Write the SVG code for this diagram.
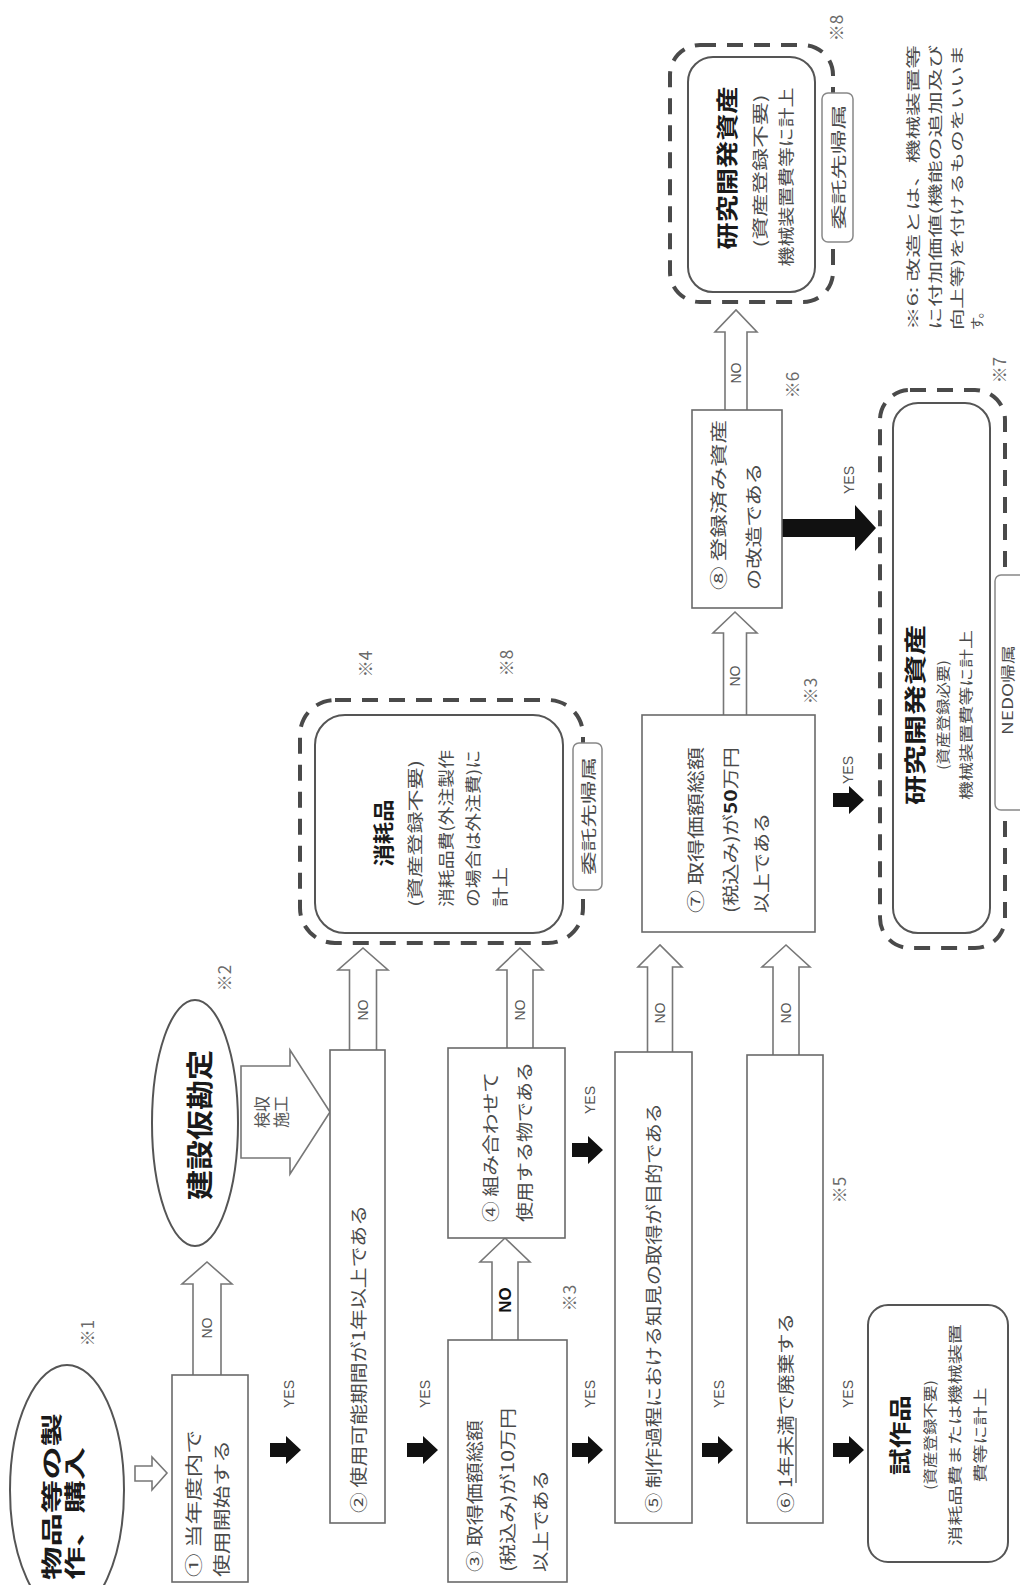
<svg xmlns="http://www.w3.org/2000/svg" width="1020" height="1585" viewBox="0 0 1020 1585">
<style>
.bg{fill:#fff}
.box{fill:#fff;stroke:#6a6a6a;stroke-width:1.6}
.hol{fill:#fff;stroke:#777;stroke-width:1.6;stroke-linejoin:miter}
.dash{fill:none;stroke:#4a4a4a;stroke-width:4;stroke-dasharray:16 11}
.inner{fill:#fff;stroke:#555;stroke-width:2}
.ell{fill:#fff;stroke:#555;stroke-width:2}
.tag{fill:#fff;stroke:#888;stroke-width:1.5}
.blk{fill:#111}
text{font-family:"Noto Sans CJK JP","Noto Sans",sans-serif;fill:#4a4a4a;font-size:17px}
.ti{font-weight:bold;fill:#1a1a1a}
.sm{font-size:16px;fill:#555}
.en{font-family:"Liberation Sans",sans-serif;font-size:14px;fill:#555}
.mk{font-family:"Noto Sans CJK JP",sans-serif;font-size:17px;fill:#6a6a6a}
</style>
<defs>
<path id="ya" d="M0,-7 H16 V-14 L31,0 L16,14 V7 H0 Z"/>
</defs>
<rect class="bg" width="1020" height="1585"/>

<g id="connectors">
<path class="hol" d="M135,1466 H152 V1457 L167,1473 L152,1490 V1481 H135 Z"/>
<path class="hol" d="M193,1375 V1284 H182 L207,1262 L232,1284 H221 V1375"/>
<path class="hol" d="M241,1066 H290 V1050 L330,1112 L290,1174 V1158 H241 Z"/>
<path class="hol" d="M349.5,1050 V970 H338 L363,948 L388,970 H376.5 V1050"/>
<path class="hol" d="M492,1340 V1262 H480 L505,1238 L530,1262 H518 V1340"/>
<path class="hol" d="M507,1048 V970 H497 L520,948 L543,970 H533 V1048"/>
<path class="hol" d="M647.5,1052 V967 H638 L660,945 L682,967 H672.5 V1052"/>
<path class="hol" d="M773,1055 V967 H762 L786,945 L810,967 H799 V1055"/>
<path class="hol" d="M723.5,715 V633 H713 L735,612 L757,633 H746.5 V715"/>
<path class="hol" d="M725,410 V332 H715 L736,310 L757,332 H747 V410"/>
<use href="#ya" class="blk" transform="translate(270,1450)"/>
<use href="#ya" class="blk" transform="translate(407,1450)"/>
<use href="#ya" class="blk" transform="translate(572,1450)"/>
<use href="#ya" class="blk" transform="translate(572,1150)"/>
<use href="#ya" class="blk" transform="translate(702,1450)"/>
<use href="#ya" class="blk" transform="translate(833,1450)"/>
<use href="#ya" class="blk" transform="translate(833,800)"/>
<path class="blk" d="M782,519 H855 V505 L876,528 L855,551 V537 H782 Z"/>
<text class="en" text-anchor="middle" transform="translate(212,1328) rotate(-90)">NO</text>
<text class="sm" text-anchor="middle" transform="translate(268,1112) rotate(-90)">検収</text>
<text class="sm" text-anchor="middle" transform="translate(287,1112) rotate(-90)">施工</text>
<text class="en" text-anchor="middle" transform="translate(368,1010) rotate(-90)">NO</text>
<text class="en" text-anchor="middle" transform="translate(525,1010) rotate(-90)">NO</text>
<text class="en" text-anchor="middle" style="font-size:17px;font-weight:bold;fill:#111" transform="translate(511,1300) rotate(-90)">NO</text>
<text class="en" text-anchor="middle" transform="translate(665,1013) rotate(-90)">NO</text>
<text class="en" text-anchor="middle" transform="translate(791,1013) rotate(-90)">NO</text>
<text class="en" text-anchor="middle" transform="translate(740,676) rotate(-90)">NO</text>
<text class="en" text-anchor="middle" transform="translate(741,373) rotate(-90)">NO</text>
<text class="en" text-anchor="middle" transform="translate(294,1394) rotate(-90)">YES</text>
<text class="en" text-anchor="middle" transform="translate(430,1394) rotate(-90)">YES</text>
<text class="en" text-anchor="middle" transform="translate(595,1394) rotate(-90)">YES</text>
<text class="en" text-anchor="middle" transform="translate(595,1100) rotate(-90)">YES</text>
<text class="en" text-anchor="middle" transform="translate(724,1394) rotate(-90)">YES</text>
<text class="en" text-anchor="middle" transform="translate(853,1394) rotate(-90)">YES</text>
<text class="en" text-anchor="middle" transform="translate(853,770) rotate(-90)">YES</text>
<text class="en" text-anchor="middle" transform="translate(854,480) rotate(-90)">YES</text>
</g>

<g id="n-start">
<ellipse class="ell" cx="67" cy="1490" rx="57" ry="125"/>
<text class="ti" style="font-size:21px" transform="translate(59,1580) rotate(-90)" textLength="167" lengthAdjust="spacingAndGlyphs">物品等の製</text>
<text class="ti" style="font-size:21px" transform="translate(82,1580) rotate(-90)" textLength="133" lengthAdjust="spacingAndGlyphs">作、購入</text>
<text class="mk" text-anchor="middle" transform="translate(94,1333) rotate(-90)">※1</text>
</g>

<g id="n1">
<rect class="box" x="172" y="1375" width="76" height="207"/>
<text transform="translate(200,1577) rotate(-90)" textLength="147" lengthAdjust="spacingAndGlyphs">① 当年度内で</text>
<text transform="translate(228,1577) rotate(-90)" textLength="137" lengthAdjust="spacingAndGlyphs">使用開始する</text>
</g>

<g id="n-kensetsu">
<ellipse class="ell" cx="195" cy="1123" rx="43" ry="123"/>
<text class="ti" style="font-size:27px" text-anchor="middle" transform="translate(210,1125) rotate(-90)" textLength="150" lengthAdjust="spacingAndGlyphs">建設仮勘定</text>
<text class="mk" text-anchor="middle" transform="translate(231,978) rotate(-90)">※2</text>
</g>

<g id="n2">
<rect class="box" x="330" y="1050" width="55" height="473"/>
<text transform="translate(364.5,1513) rotate(-90)" textLength="308" lengthAdjust="spacingAndGlyphs">② 使用可能期間が1年以上である</text>
</g>

<g id="n3">
<rect class="box" x="448" y="1340" width="119" height="242"/>
<text transform="translate(480.5,1572) rotate(-90)" textLength="152" lengthAdjust="spacingAndGlyphs">③ 取得価額総額</text>
<text transform="translate(513.5,1572) rotate(-90)" textLength="164" lengthAdjust="spacingAndGlyphs">(税込み)が10万円</text>
<text transform="translate(546.5,1572) rotate(-90)" textLength="102" lengthAdjust="spacingAndGlyphs">以上である</text>
<text class="mk" text-anchor="middle" transform="translate(576,1298) rotate(-90)">※3</text>
</g>

<g id="n4">
<rect class="box" x="448" y="1048" width="117" height="190"/>
<text transform="translate(496.5,1222) rotate(-90)" textLength="150" lengthAdjust="spacingAndGlyphs">④ 組み合わせて</text>
<text transform="translate(530.5,1222) rotate(-90)" textLength="160" lengthAdjust="spacingAndGlyphs">使用する物である</text>
</g>

<g id="n5">
<rect class="box" x="615" y="1052" width="77" height="471"/>
<text transform="translate(659.5,1513) rotate(-90)" textLength="410" lengthAdjust="spacingAndGlyphs">⑤ 制作過程における知見の取得が目的である</text>
</g>

<g id="n6">
<rect class="box" x="747" y="1055" width="76" height="468"/>
<text transform="translate(791.5,1513) rotate(-90)" textLength="200" lengthAdjust="spacingAndGlyphs">⑥ 1年未満で廃棄する</text>
<line x1="796" y1="1483" x2="796" y2="1418" stroke="#555" stroke-width="1.3"/>
<text class="mk" text-anchor="middle" transform="translate(846,1190) rotate(-90)">※5</text>
</g>

<g id="n-shomo">
<rect class="dash" x="300" y="700" width="283" height="243" rx="35"/>
<rect class="inner" x="315" y="715" width="248" height="218" rx="30"/>
<text class="ti" style="font-size:21px" text-anchor="middle" transform="translate(391,833) rotate(-90)" textLength="67" lengthAdjust="spacingAndGlyphs">消耗品</text>
<text style="font-size:16px" transform="translate(421,907) rotate(-90)" textLength="147" lengthAdjust="spacingAndGlyphs">(資産登録不要)</text>
<text style="font-size:16px" transform="translate(451.5,907) rotate(-90)" textLength="157" lengthAdjust="spacingAndGlyphs">消耗品費(外注製作</text>
<text style="font-size:16px" transform="translate(478.5,907) rotate(-90)" textLength="157" lengthAdjust="spacingAndGlyphs">の場合は外注費)に</text>
<text style="font-size:16px" transform="translate(505.5,907) rotate(-90)" textLength="40" lengthAdjust="spacingAndGlyphs">計上</text>
<rect class="tag" x="573" y="743" width="29" height="147" rx="6"/>
<text style="font-size:15px" text-anchor="middle" transform="translate(593.5,816) rotate(-90)" textLength="118" lengthAdjust="spacingAndGlyphs">委託先帰属</text>
<text class="mk" text-anchor="middle" transform="translate(372,664) rotate(-90)">※4</text>
<text class="mk" text-anchor="middle" transform="translate(513,663) rotate(-90)">※8</text>
</g>

<g id="n7">
<rect class="box" x="642" y="715" width="173" height="217"/>
<text transform="translate(701.5,913) rotate(-90)" textLength="166" lengthAdjust="spacingAndGlyphs">⑦ 取得価額総額</text>
<text transform="translate(736.5,913) rotate(-90)" textLength="166" lengthAdjust="spacingAndGlyphs">(税込み)が<tspan font-weight="bold" fill="#222">50</tspan>万円</text>
<text transform="translate(767.5,913) rotate(-90)" textLength="100" lengthAdjust="spacingAndGlyphs">以上である</text>
<text class="mk" text-anchor="middle" transform="translate(817,691) rotate(-90)">※3</text>
</g>

<g id="n8">
<rect class="box" x="692" y="410" width="90" height="198"/>
<text transform="translate(724.5,590) rotate(-90)" textLength="170" lengthAdjust="spacingAndGlyphs">⑧ 登録済み資産</text>
<text transform="translate(759.5,590) rotate(-90)" textLength="127" lengthAdjust="spacingAndGlyphs">の改造である</text>
<text class="mk" text-anchor="middle" transform="translate(799,385) rotate(-90)">※6</text>
</g>

<g id="n-rd-itaku">
<rect class="dash" x="670" y="45" width="163" height="257" rx="30"/>
<rect class="inner" x="688" y="57" width="127" height="235" rx="25"/>
<text class="ti" style="font-size:22px" text-anchor="middle" transform="translate(735,168) rotate(-90)" textLength="163" lengthAdjust="spacingAndGlyphs">研究開発資産</text>
<text style="font-size:16px" text-anchor="middle" transform="translate(766,171) rotate(-90)" textLength="153" lengthAdjust="spacingAndGlyphs">(資産登録不要)</text>
<text style="font-size:16px" text-anchor="middle" transform="translate(792,177) rotate(-90)" textLength="179" lengthAdjust="spacingAndGlyphs">機械装置費等に計上</text>
<rect class="tag" x="822" y="93" width="31" height="149" rx="6"/>
<text style="font-size:15px" text-anchor="middle" transform="translate(844,167) rotate(-90)" textLength="125" lengthAdjust="spacingAndGlyphs">委託先帰属</text>
<text class="mk" text-anchor="middle" transform="translate(843,28) rotate(-90)">※8</text>
</g>

<g id="n-rd-nedo">
<rect class="dash" x="880" y="390" width="125" height="558" rx="30"/>
<rect class="inner" x="893" y="403" width="97" height="530" rx="25"/>
<text class="ti" style="font-size:22px" text-anchor="middle" transform="translate(923,715) rotate(-90)" textLength="180" lengthAdjust="spacingAndGlyphs">研究開発資産</text>
<text style="font-size:14px" text-anchor="middle" transform="translate(948,715) rotate(-90)" textLength="110" lengthAdjust="spacingAndGlyphs">(資産登録必要)</text>
<text style="font-size:14px" text-anchor="middle" transform="translate(971,715) rotate(-90)" textLength="170" lengthAdjust="spacingAndGlyphs">機械装置費等に計上</text>
<rect class="tag" x="995" y="575" width="35" height="235" rx="6"/>
<text style="font-size:14px" text-anchor="middle" transform="translate(1013,690) rotate(-90)" textLength="90" lengthAdjust="spacingAndGlyphs">NEDO帰属</text>
<text class="mk" text-anchor="middle" transform="translate(1006,370) rotate(-90)">※7</text>
</g>

<g id="n-shisaku">
<rect class="inner" x="868" y="1305" width="140" height="257" rx="20"/>
<text class="ti" style="font-size:22px" text-anchor="middle" transform="translate(908,1435) rotate(-90)" textLength="80" lengthAdjust="spacingAndGlyphs">試作品</text>
<text style="font-size:14px" text-anchor="middle" transform="translate(935,1435) rotate(-90)" textLength="110" lengthAdjust="spacingAndGlyphs">(資産登録不要)</text>
<text style="font-size:14px" text-anchor="middle" transform="translate(960,1435) rotate(-90)" textLength="222" lengthAdjust="spacingAndGlyphs">消耗品費または機械装置</text>
<text style="font-size:14px" text-anchor="middle" transform="translate(985,1435) rotate(-90)" textLength="95" lengthAdjust="spacingAndGlyphs">費等に計上</text>
</g>

<g id="note6">
<text style="font-size:14px" transform="translate(918,330) rotate(-90)" textLength="285" lengthAdjust="spacingAndGlyphs">※6: 改造とは、機械装置等</text>
<text style="font-size:14px" transform="translate(940,330) rotate(-90)" textLength="285" lengthAdjust="spacingAndGlyphs">に付加価値(機能の追加及び</text>
<text style="font-size:14px" transform="translate(962,330) rotate(-90)" textLength="285" lengthAdjust="spacingAndGlyphs">向上等)を付けるものをいいま</text>
<text style="font-size:14px" transform="translate(982,330) rotate(-90)" textLength="25" lengthAdjust="spacingAndGlyphs">す。</text>
</g>
</svg>
